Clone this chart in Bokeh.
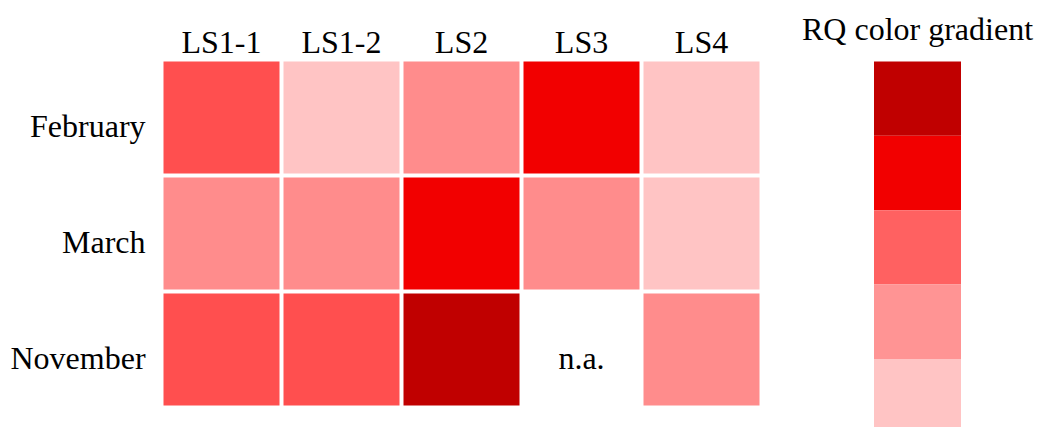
from bokeh.plotting import figure
from bokeh.models import Range1d, ColumnDataSource
from bokeh.core.properties import value
from bokeh.embed import file_html
from bokeh.resources import INLINE

# ---- data ----
sites = ["LS1-1", "LS1-2", "LS2", "LS3", "LS4"]
months = ["February", "March", "November"]
rq_february = [3, 1, 2, 4, 1]
rq_march = [2, 2, 4, 2, 1]
rq_november = [3, 3, 5, None, 2]   # LS3 in November not available
gradient_levels = [5, 4, 3, 2, 1]
legend_title = "RQ color gradient"
na_text = "n.a."

# colours (level -> colour)
cell_palette = {1: "#FFC4C4", 2: "#FF8C8C", 3: "#FF4F4F", 4: "#F20000", 5: "#C00000"}
gradient_palette = {1: "#FFC4C4", 2: "#FF9494", 3: "#FF6161", 4: "#F20000", 5: "#C00000"}

FONT = value("Liberation Serif")
FSIZE = value("32px")

# ---- layout ----
W, H = 1037, 427
p = figure(width=W, height=H, output_backend="svg", toolbar_location=None,
           x_range=Range1d(-161 / 120, 7.3), y_range=Range1d(-20 / 116, 407 / 116),
           x_axis_location=None, y_axis_location=None, min_border=0)
p.outline_line_color = None
p.grid.visible = False
p.background_fill_color = "white"
p.border_fill_color = "white"

TXT_SHIFT = 0.095  # baseline correction

rows = {"February": rq_february, "March": rq_march, "November": rq_november}
n_rows = len(months)

xs, ys, cols = [], [], []
na_x, na_y = [], []
for r, m in enumerate(months):
    yc = n_rows - r - 0.5
    for c, s in enumerate(sites):
        v = rows[m][c]
        if v is None:
            na_x.append(c + 0.5)
            na_y.append(yc - 0.172 + TXT_SHIFT)
        else:
            xs.append(c + 0.5)
            ys.append(yc)
            cols.append(cell_palette[v])

p.rect(x="x", y="y", width=116 / 120, height=112 / 116, fill_color="c",
       line_color=None, source=ColumnDataSource(dict(x=xs, y=ys, c=cols)))

p.text(x=na_x, y=na_y, text=[na_text] * len(na_x), text_font=FONT,
       text_font_size=FSIZE, text_align="center", text_baseline="alphabetic",
       text_color="black")

# column labels
p.text(x=[c + 0.5 for c in range(len(sites))], y=[3.06 + TXT_SHIFT] * len(sites),
       text=sites, text_font=FONT, text_font_size=FSIZE, text_align="center",
       text_baseline="alphabetic", text_color="black")

# row labels
p.text(x=[-0.133] * n_rows,
       y=[n_rows - r - 0.5 - 0.172 + TXT_SHIFT for r in range(n_rows)],
       text=months, text_font=FONT, text_font_size=FSIZE, text_align="right",
       text_baseline="alphabetic", text_color="black")

# gradient legend
band_h = 0.641
top = 2.983
gy = [top - band_h * (i + 0.5) for i in range(len(gradient_levels))]
gc = [gradient_palette[l] for l in gradient_levels]
p.rect(x=[6.30] * len(gradient_levels), y=gy, width=87 / 120, height=band_h,
       fill_color=gc, line_color=None)
p.text(x=[6.30], y=[3.172 + TXT_SHIFT], text=[legend_title], text_font=FONT,
       text_font_size=FSIZE, text_align="center", text_baseline="alphabetic",
       text_color="black")

open("out.html", "w").write(file_html(p, INLINE))
